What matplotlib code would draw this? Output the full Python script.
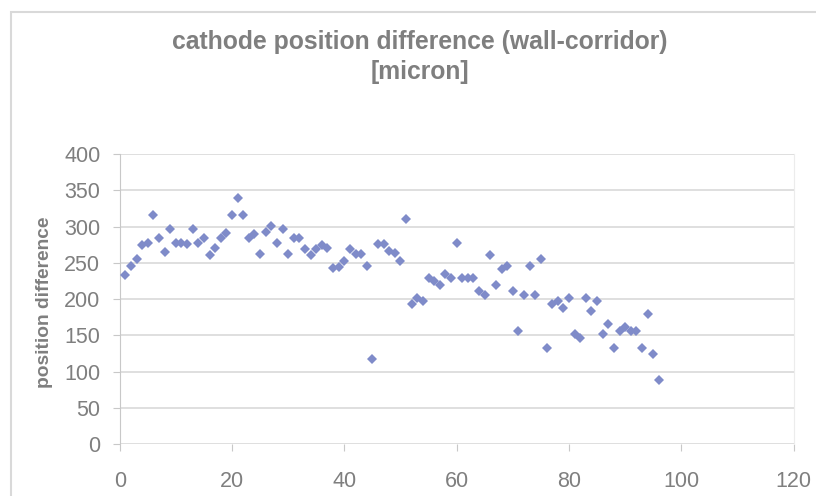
import matplotlib.pyplot as plt
from matplotlib.patches import Rectangle

# sample index and cathode position difference (wall-corridor) [micron]
idx = list(range(1, 97))
diff = [233, 246, 256, 274, 278, 316, 284, 265, 297, 278,
        278, 276, 297, 278, 284, 261, 270, 284, 291, 316,
        339, 316, 284, 290, 262, 292, 301, 278, 297, 262,
        284, 284, 269, 261, 269, 275, 270, 243, 244, 253,
        269, 262, 262, 246, 117, 276, 276, 266, 263, 253,
        310, 194, 202, 198, 229, 225, 220, 234, 229, 278,
        229, 229, 229, 211, 206, 261, 220, 242, 246, 211,
        156, 206, 246, 206, 255, 133, 193, 197, 188, 201,
        152, 146, 201, 184, 197, 152, 166, 133, 156, 161,
        156, 156, 133, 179, 124, 88]

xticks = [0, 20, 40, 60, 80, 100, 120]
yticks = [0, 50, 100, 150, 200, 250, 300, 350, 400]

grey = '#7f7f7f'
plt.rcParams['font.family'] = ['Liberation Sans', 'DejaVu Sans']

fig = plt.figure(figsize=(8.16, 4.96), dpi=100)
ax = fig.add_axes([119.7/816, 1-444.3/496, (793.6-119.7)/816, (444.3-154)/496])

# outer chart border
fig.patches.append(Rectangle((11/816, -0.1), 1.2, 1.1-12/496, transform=fig.transFigure,
                             fill=False, edgecolor='#d9d9d9', lw=1.5))

ax.plot(idx, diff, linestyle='none', marker='D', ms=5.6, mew=0, color='#7f8bc9', zorder=3)

ax.set_xlim(0, 120)
ax.set_ylim(0, 400)
ax.set_xticks(xticks)
ax.set_yticks(yticks)
ax.grid(axis='y', color='#d9d9d9', lw=1.2)
ax.set_axisbelow(True)

for s in ['top', 'bottom']:
    ax.spines[s].set_visible(False)
ax.spines['left'].set_color('#c8c8c8')
ax.spines['right'].set_color('#ececec')
ax.tick_params(axis='both', colors='#c8c8c8', labelcolor=grey, labelsize=15.5, length=5, width=0.8)
ax.tick_params(axis='y', pad=9)
ax.tick_params(axis='x', pad=14)

fig.text(420/816, 1-57/496, 'cathode position difference (wall-corridor)\n[micron]',
         ha='center', va='center', fontsize=17.8, fontweight='bold', color=grey, linespacing=1.32)
fig.text(45/816, 1-302/496, 'position difference', rotation=90, ha='center', va='center',
         fontsize=13.8, fontweight='bold', color=grey)

fig.savefig('out.png', dpi=100)
